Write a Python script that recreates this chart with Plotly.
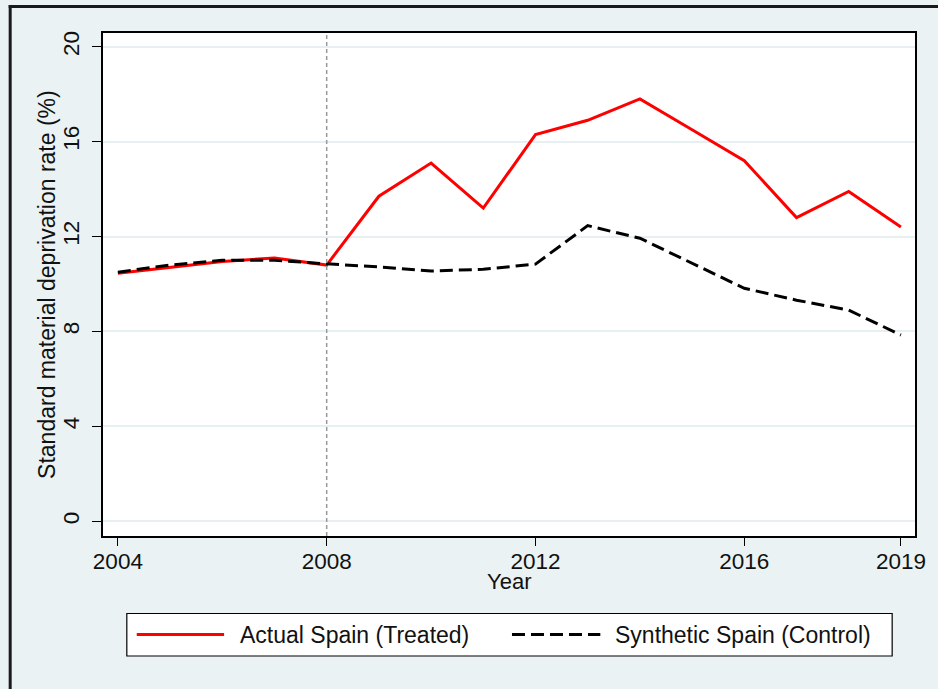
import plotly.graph_objects as go

# ---- data ----
years = list(range(2004, 2020))
actual_spain = [10.45, 10.7, 10.95, 11.1, 10.8, 13.7, 15.1, 13.2, 16.3, 16.9, 17.8, 16.5, 15.2, 12.8, 13.9, 12.4]
synthetic_spain = [10.5, 10.8, 11.0, 11.0, 10.85, 10.72, 10.55, 10.62, 10.84, 12.46, 11.93, 10.87, 9.82, 9.32, 8.9, 7.85]
series_names = ["Actual Spain (Treated)", "Synthetic Spain (Control)"]
treatment_year = 2008
x_ticks = [2004, 2008, 2012, 2016, 2019]
y_ticks = [0, 4, 8, 12, 16, 20]
x_title = "Year"
y_title = "Standard material deprivation rate (%)"

# ---- layout geometry (pixels) ----
W_FIG, H_FIG = 938, 689
L, R, T, B = 103, 921, 33, 536
PW, PH = R - L, B - T


def px_x(p):
    return (p - L) / PW


def px_y(p):
    return (B - p) / PH


BG = "#EAF2F3"
FONT = "Liberation Sans, Arial, sans-serif"
FS = 22.5
TXT = "#111111"

fig = go.Figure()
fig.add_trace(go.Scatter(x=years, y=actual_spain, mode="lines", name=series_names[0],
                         line=dict(color="#FF0000", width=3), showlegend=False))
fig.add_trace(go.Scatter(x=years, y=synthetic_spain, mode="lines", name=series_names[1],
                         line=dict(color="#000000", width=3, dash="13px,6px"), showlegend=False))

shapes = []
# treatment year vertical line
shapes.append(dict(type="line", xref="x", yref="paper", x0=treatment_year, x1=treatment_year,
                   y0=0, y1=1, line=dict(color="#999999", width=1.5, dash="4px,3px"), layer="above"))
# outer frame (left & top)
shapes.append(dict(type="line", xref="paper", yref="paper", x0=px_x(9.5), x1=px_x(9.5),
                   y0=px_y(5), y1=px_y(700), line=dict(color="#1a1a1a", width=3)))
shapes.append(dict(type="line", xref="paper", yref="paper", x0=px_x(8), x1=px_x(945),
                   y0=px_y(6.5), y1=px_y(6.5), line=dict(color="#1a1a1a", width=3)))
# legend box
shapes.append(dict(type="rect", xref="paper", yref="paper", x0=px_x(127), x1=px_x(898),
                   y0=px_y(656), y1=px_y(613.5), line=dict(color="#000000", width=1.2),
                   fillcolor="white"))
# legend samples
shapes.append(dict(type="line", xref="paper", yref="paper", x0=px_x(137), x1=px_x(225),
                   y0=px_y(634.5), y1=px_y(634.5), line=dict(color="#FF0000", width=3)))
shapes.append(dict(type="line", xref="paper", yref="paper", x0=px_x(515), x1=px_x(604),
                   y0=px_y(634.5), y1=px_y(634.5), line=dict(color="#000000", width=3, dash="13px,6px")))

annotations = [
    dict(xref="paper", yref="paper", x=px_x(239), y=px_y(635), text=series_names[0],
         showarrow=False, xanchor="left", yanchor="middle", font=dict(size=23, color=TXT)),
    dict(xref="paper", yref="paper", x=px_x(617), y=px_y(635), text=series_names[1],
         showarrow=False, xanchor="left", yanchor="middle", font=dict(size=23, color=TXT)),
    # axis titles
    dict(xref="paper", yref="paper", x=px_x(512), y=px_y(581), text=x_title,
         showarrow=False, xanchor="center", yanchor="middle", font=dict(size=22, color=TXT)),
    dict(xref="paper", yref="paper", x=px_x(46), y=px_y(284.5), text=y_title, textangle=-90,
         showarrow=False, xanchor="center", yanchor="middle", font=dict(size=23, color=TXT)),
]

fig.update_layout(
    width=W_FIG, height=H_FIG,
    margin=dict(l=L, r=W_FIG - R, t=T, b=H_FIG - B, pad=0),
    paper_bgcolor=BG, plot_bgcolor="white",
    font=dict(family=FONT, size=FS, color=TXT),
    shapes=shapes, annotations=annotations,
    showlegend=False,
)
fig.update_xaxes(
    range=[2003.715, 2019.27], tickvals=x_ticks, ticks="outside", ticklen=8, tickwidth=1.3,
    tickcolor="black", showgrid=False, zeroline=False, showline=True, linecolor="black",
    linewidth=2, mirror=True, ticklabelstandoff=-4, tickfont=dict(size=22.5),
)
fig.update_yaxes(
    range=[-0.62, 20.58], tickvals=y_ticks, ticks="outside", ticklen=9, tickwidth=1.3,
    tickcolor="black", tickangle=-90, showgrid=True, gridcolor="#E6EFF1", gridwidth=2,
    zeroline=False, showline=True, linecolor="black", linewidth=2, mirror=True,
    ticklabelstandoff=4, tickfont=dict(size=22.5),
)

fig.write_html("out.html", config={"displayModeBar": False},
               post_script="document.body.style.margin='0';document.body.style.padding='0';")
